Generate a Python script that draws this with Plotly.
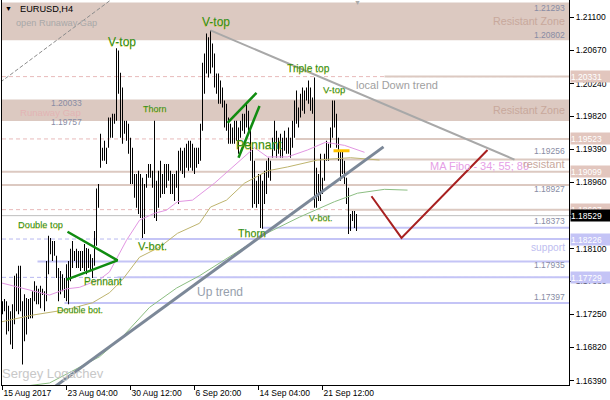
import plotly.graph_objects as go

# ---------------- data (EURUSD H4) ----------------
highs = [1.1742, 1.1745, 1.1742, 1.1736, 1.1729, 1.1738, 1.1775, 1.1778, 1.1788, 1.1788,
         1.1742, 1.1751, 1.1746, 1.1745, 1.1746, 1.1755, 1.1768, 1.1762, 1.1758, 1.1762,
         1.1758, 1.1755, 1.1794, 1.1827, 1.1824, 1.1820, 1.1820, 1.1801, 1.1785, 1.1781,
         1.1777, 1.1772, 1.1790, 1.1794, 1.1810, 1.1820, 1.1807, 1.1810, 1.1807, 1.1807,
         1.1807, 1.1816, 1.1811, 1.1810, 1.1803, 1.1798, 1.1833, 1.1888, 1.1894, 1.1959,
         1.1941, 1.1950, 1.1941, 1.1980, 1.1980, 1.1985, 1.1985, 1.2070, 1.2067, 1.2038,
         1.2019, 1.1976, 1.1976, 1.1972, 1.1954, 1.1941, 1.1907, 1.1907, 1.1911, 1.1907,
         1.1902, 1.1894, 1.1907, 1.1920, 1.1920, 1.1911, 1.1976, 1.1898, 1.1911, 1.1924,
         1.1907, 1.1920, 1.1920, 1.1920, 1.1911, 1.1907, 1.1907, 1.1911, 1.1937, 1.1941,
         1.1937, 1.1941, 1.1946, 1.1950, 1.1950, 1.1946, 1.1941, 1.1941, 1.1941, 1.1972,
         1.2051, 1.2063, 1.2089, 1.2084, 1.2093, 1.2076, 1.2063, 1.2037, 1.2037, 1.2028,
         1.2019, 1.2002, 1.1998, 1.1980, 1.1972, 1.1967, 1.1976, 1.1976, 1.1967, 1.1976,
         1.1985, 1.1985, 1.1998, 1.1989, 1.1967, 1.1941, 1.1924, 1.1898, 1.1907, 1.1907,
         1.1898, 1.1911, 1.1924, 1.1928, 1.1924, 1.1954, 1.1976, 1.1963, 1.1954, 1.1959,
         1.1954, 1.1963, 1.1954, 1.1967, 1.1954, 1.1976, 1.2002, 1.2015, 1.1993, 1.2011,
         1.2019, 1.2015, 1.2019, 1.2028, 1.2019, 1.2006, 1.2032, 1.1915, 1.1907, 1.1933,
         1.1902, 1.1933, 1.1950, 1.1946, 1.1967, 1.2002, 1.2002, 1.1985, 1.1954, 1.1937,
         1.1937, 1.1924, 1.1902, 1.1889, 1.1855, 1.1859, 1.1859, 1.1855]
lows = [1.1725, 1.1729, 1.1699, 1.1703, 1.1686, 1.1680, 1.1712, 1.1729, 1.1725, 1.1729,
        1.1660, 1.1690, 1.1699, 1.1719, 1.1720, 1.1720, 1.1742, 1.1738, 1.1738, 1.1733,
        1.1750, 1.1729, 1.1742, 1.1777, 1.1803, 1.1794, 1.1801, 1.1772, 1.1742, 1.1751,
        1.1755, 1.1746, 1.1742, 1.1738, 1.1768, 1.1785, 1.1794, 1.1785, 1.1785, 1.1781,
        1.1785, 1.1781, 1.1777, 1.1785, 1.1781, 1.1772, 1.1788, 1.1814, 1.1863, 1.1915,
        1.1924, 1.1924, 1.1920, 1.1941, 1.1954, 1.1954, 1.1972, 1.1976, 1.2011, 1.1954,
        1.1946, 1.1959, 1.1950, 1.1933, 1.1894, 1.1894, 1.1876, 1.1863, 1.1855, 1.1850,
        1.1824, 1.1829, 1.1889, 1.1902, 1.1902, 1.1889, 1.1850, 1.1846, 1.1863, 1.1876,
        1.1881, 1.1881, 1.1889, 1.1898, 1.1881, 1.1881, 1.1872, 1.1889, 1.1868, 1.1911,
        1.1907, 1.1902, 1.1915, 1.1911, 1.1915, 1.1911, 1.1907, 1.1915, 1.1920, 1.1924,
        1.1963, 1.2011, 1.2037, 1.2032, 1.2037, 1.2045, 1.2019, 1.2011, 1.1998, 1.1998,
        1.1993, 1.1967, 1.1963, 1.1946, 1.1946, 1.1946, 1.1946, 1.1950, 1.1933, 1.1954,
        1.1963, 1.1959, 1.1967, 1.1963, 1.1924, 1.1863, 1.1868, 1.1863, 1.1868, 1.1837,
        1.1836, 1.1868, 1.1881, 1.1902, 1.1898, 1.1928, 1.1937, 1.1928, 1.1933, 1.1928,
        1.1928, 1.1937, 1.1933, 1.1933, 1.1928, 1.1941, 1.1954, 1.1972, 1.1967, 1.1980,
        1.1989, 1.1985, 1.2002, 1.1998, 1.1989, 1.1985, 1.1863, 1.1863, 1.1872, 1.1872,
        1.1881, 1.1898, 1.1924, 1.1924, 1.1941, 1.1954, 1.1967, 1.1941, 1.1924, 1.1898,
        1.1907, 1.1894, 1.1868, 1.1829, 1.1833, 1.1846, 1.1837, 1.1833]
bar_idx = list(range(len(highs)))

date_tick_idx = [0, 32, 64, 96, 128, 160]
date_tick_labels = ["15 Aug 2017", "23 Aug 04:00", "30 Aug 12:00",
                    "6 Sep 20:00", "14 Sep 04:00", "21 Sep 12:00"]
price_tick_vals = [1.21100, 1.20670, 1.20240, 1.19820, 1.19390, 1.18960,
                   1.18530, 1.18100, 1.17680, 1.17250, 1.16820, 1.16390]

zone_low = [1.20802, 1.19757]
zone_high = [1.21293, 1.20033]
resist_levels = [1.20331, 1.19523, 1.19256, 1.19099, 1.18927, 1.18607]
resist_from = [191, 146.5, 126, -1, -1, 172]
support_levels = [1.18373, 1.18226, 1.17935, 1.17729, 1.17397]
support_from = [130, 69, 17.5, 57.5, 31]
dashed_resist = [1.20331, 1.19523, 1.18607]
dashed_support = [1.18226, 1.17729]
current_price = 1.18529

ma34_idx = [-1, 13.5, 23.5, 32, 38.5, 48.5, 53.5, 62, 68.5, 76, 82, 87.5, 95, 106,
            117.5, 126, 132.5, 142.5, 152.5, 161.5, 171, 177.5, 181]
ma34_val = [1.1766, 1.1757, 1.1750, 1.1758, 1.1760, 1.1770, 1.1780, 1.1821, 1.1847,
            1.1856, 1.1860, 1.1871, 1.1873, 1.1895, 1.1921, 1.1941, 1.1929, 1.1929,
            1.1938, 1.1948, 1.1944, 1.1938, 1.1935]
ma55_idx = [-1, 15, 32, 45, 53.5, 60, 68.5, 78.5, 87.5, 98.5, 104, 112, 121, 132.5,
            142.5, 157.5, 174, 188.5]
ma55_val = [1.1715, 1.1724, 1.1731, 1.1740, 1.1753, 1.1770, 1.1799, 1.1812, 1.1830,
            1.1843, 1.1864, 1.1873, 1.1895, 1.1911, 1.1916, 1.1925, 1.1928, 1.1925]
ma89_idx = [8.5, 23.5, 48.5, 60, 73.5, 87, 98.5, 115, 132, 148.5, 166, 177.5, 191, 202.5]
ma89_val = [1.1631, 1.1636, 1.1670, 1.1696, 1.1734, 1.1759, 1.1775, 1.1802, 1.1830,
            1.1851, 1.1871, 1.1882, 1.1887, 1.1886]

down_trend_idx = [104, 256]
down_trend_val = [1.2093, 1.19256]
up_trend_idx = [25, 190.5]
up_trend_val = [1.1629, 1.1942]
gap_line_idx = [-1, 56]
gap_line_val = [1.2026, 1.2136]
pennant1_idx = [32.5, 57.5, 32]
pennant1_val = [1.1832, 1.1795, 1.1770]
pennant2a_idx = [112.5, 127]
pennant2a_val = [1.1973, 1.2012]
pennant2b_idx = [118, 128.5]
pennant2b_val = [1.1928, 1.1995]
forecast_idx = [184.5, 199.5, 242.5]
forecast_val = [1.1878, 1.1824, 1.1938]
fibo_mark_idx = [165.5, 173.5]
fibo_mark_val = [1.1937, 1.1937]

# ---------------- styling ----------------
FONT = "Liberation Sans, Arial, sans-serif"
BROWN = "rgb(220,201,193)"
BROWN_BOX = "rgb(226,198,190)"
BLUE = "rgb(196,196,246)"
PINK_DASH = "rgb(232,186,186)"
LAV_DASH = "rgb(184,184,240)"
PAT = "#2f8f1a"

fig = go.Figure()

shapes = []
for lo, hi in zip(zone_low, zone_high):
    shapes.append(dict(type="rect", xref="paper", x0=0, x1=1, yref="y", y0=lo, y1=hi,
                       fillcolor=BROWN, line=dict(width=0), layer="below"))
for lv in dashed_resist:
    shapes.append(dict(type="line", xref="paper", x0=0, x1=1, yref="y", y0=lv, y1=lv,
                       line=dict(color=PINK_DASH, width=1, dash="4px,3px"), layer="below"))
for lv in dashed_support:
    shapes.append(dict(type="line", xref="paper", x0=0, x1=1, yref="y", y0=lv, y1=lv,
                       line=dict(color=LAV_DASH, width=1, dash="4px,3px"), layer="below"))
for lv, st in zip(resist_levels, resist_from):
    shapes.append(dict(type="line", xref="x", x0=st, x1=290, yref="y", y0=lv, y1=lv,
                       line=dict(color=BROWN, width=2), layer="below"))
for lv, st in zip(support_levels, support_from):
    shapes.append(dict(type="line", xref="x", x0=st, x1=290, yref="y", y0=lv, y1=lv,
                       line=dict(color=BLUE, width=2), layer="below"))
shapes.append(dict(type="line", xref="paper", x0=0, x1=1, yref="y", y0=current_price,
                   y1=current_price, line=dict(color="rgb(190,190,190)", width=1), layer="below"))

# moving averages
for xi, yv, col in [(ma89_idx, ma89_val, "rgb(140,190,130)"),
                    (ma55_idx, ma55_val, "rgb(190,180,110)"),
                    (ma34_idx, ma34_val, "rgb(226,150,226)")]:
    fig.add_trace(go.Scatter(x=xi, y=yv, mode="lines", line=dict(color=col, width=1),
                             hoverinfo="skip"))

# price bars
fig.add_trace(go.Bar(x=bar_idx, y=[h - l for h, l in zip(highs, lows)], base=lows,
                     width=0.5, marker=dict(color="black", line=dict(width=0)),
                     hoverinfo="skip"))

# trend lines & drawings
fig.add_trace(go.Scatter(x=gap_line_idx, y=gap_line_val, mode="lines",
                         line=dict(color="rgb(140,140,140)", width=1, dash="4px,2px"),
                         hoverinfo="skip"))
fig.add_trace(go.Scatter(x=down_trend_idx, y=down_trend_val, mode="lines",
                         line=dict(color="rgb(168,168,168)", width=2), hoverinfo="skip"))
fig.add_trace(go.Scatter(x=up_trend_idx, y=up_trend_val, mode="lines",
                         line=dict(color="rgb(124,136,152)", width=3), hoverinfo="skip"))
for xi, yv in [(pennant1_idx, pennant1_val), (pennant2a_idx, pennant2a_val),
               (pennant2b_idx, pennant2b_val)]:
    fig.add_trace(go.Scatter(x=xi, y=yv, mode="lines",
                             line=dict(color="rgb(16,140,16)", width=2.5), hoverinfo="skip"))
fig.add_trace(go.Scatter(x=forecast_idx, y=forecast_val, mode="lines",
                         line=dict(color="rgb(168,32,32)", width=2), hoverinfo="skip"))
fig.add_trace(go.Scatter(x=fibo_mark_idx, y=fibo_mark_val, mode="lines",
                         line=dict(color="rgb(255,196,0)", width=3), hoverinfo="skip"))

ann = []


def txt(text, x, y, size, color, xanchor="center", xref="x", xshift=0, yshift=0, shadow=None):
    f = dict(family=FONT, size=size, color=color)
    if shadow:
        f["shadow"] = shadow
    ann.append(dict(text=text, x=x, y=y, xref=xref, yref="y", xanchor=xanchor,
                    yanchor="middle", showarrow=False, font=f, xshift=xshift, yshift=yshift))


pat_shadow = "0px 1px 0px rgba(215,190,0,0.55)"
for t, xi, yv, sz in [("V-top", 59.8, 1.2078, 12), ("V-top", 106.8, 1.2104, 12),
                      ("Thorn", 76.3, 1.1991, 9), ("Triple top", 152.8, 1.2043, 10.3),
                      ("V-top", 165.8, 1.2017, 9.6), ("Pennant", 128.3, 1.1944, 12.3),
                      ("Pennant", 50.3, 1.1768, 10.2), ("Double top", 18.8, 1.1841, 9.3),
                      ("Double bot.", 38.8, 1.1731, 9), ("V-bot.", 74.8, 1.1814, 11.2),
                      ("Thorn", 124.8, 1.1830, 10.7), ("V-bot.", 159.3, 1.1850, 9)]:
    txt(t, xi, yv, sz, PAT, shadow=pat_shadow)

txt("local Down trend", 197.3, 1.2022, 11, "rgb(160,160,160)")
txt("MA Fibo - 34; 55; 89", 238.3, 1.1917, 11, "rgb(230,160,230)")
txt("Up trend", 108.8, 1.1754, 12, "rgb(150,160,172)")
txt("Sergey Logachev", 25.3, 1.1648, 13, "rgb(200,200,200)")
txt("open Runaway Gap", 26.8, 1.2103, 9.2, "rgb(168,168,168)")
txt("Runaway Gap", 40.3, 1.1987, 9.6, "rgb(226,180,180)", xanchor="right")
txt("1.20033", 40.8, zone_high[1], 8.5, "rgb(136,140,164)", xanchor="right", yshift=-3)
txt("1.19757", 40.8, zone_low[1], 8.5, "rgb(136,140,164)", xanchor="right", yshift=-1)
txt("EURUSD,H4", 7.8, 1.2121, 9.2, "black", xanchor="left")
txt("▼", 3.0, 1.2121, 7, "black", xanchor="center")
txt("▼", 177.5, 1.2129, 7, "rgb(170,170,170)")

# right-edge texts inside plot
for lo, hi in zip(zone_low, zone_high):
    txt("Resistant Zone", 1, (lo + hi) / 2, 10.7, "rgb(200,168,156)", xanchor="right",
        xref="paper", xshift=-2)
txt("resistant", 1, 1.1920, 11, "rgb(200,168,156)", xanchor="right", xref="paper", xshift=-2)
txt("support", 1, 1.1812, 10.2, "rgb(190,190,240)", xanchor="right", xref="paper", xshift=-2)
for lv, ys in [(1.21293, -6), (1.20802, 5), (1.19256, 9), (1.18927, -4),
               (1.18373, 7), (1.17935, -4), (1.17397, 6)]:
    txt(f"{lv:.5f}", 1, lv, 8.5, "rgb(136,140,164)", xanchor="right", xref="paper",
        xshift=-2, yshift=ys)

# price boxes on the axis
for lv, bg in ([(v, BROWN_BOX) for v in dashed_resist + [1.19099]] +
               [(v, BLUE) for v in dashed_support] + [(current_price, "black")]):
    ann.append(dict(text=f"{lv:.5f}", x=1, y=lv, xref="paper", yref="y", xanchor="left",
                    yanchor="middle", showarrow=False, xshift=1, width=40, height=11,
                    align="left", bgcolor=bg, borderpad=0,
                    font=dict(family=FONT, size=8.5, color="white")))

fig.update_layout(
    width=610, height=400, margin=dict(l=2, r=41, t=0, b=15, autoexpand=False),
    plot_bgcolor="white", paper_bgcolor="white", showlegend=False,
    shapes=shapes, annotations=ann,
    xaxis=dict(range=[-0.25, 283.25], showgrid=False, zeroline=False, showline=True,
               linecolor="black", linewidth=1, ticks="outside", ticklen=4,
               tickcolor="black", tickvals=date_tick_idx, ticktext=date_tick_labels,
               tickfont=dict(family=FONT, size=8.5, color="black"),
               ticklabelposition="outside right", fixedrange=True, automargin=False),
    yaxis=dict(range=[1.16334, 1.21324], side="right", showgrid=False, zeroline=False,
               showline=True, mirror=True, linecolor="black", linewidth=1,
               ticks="outside", ticklen=4, tickcolor="black",
               tickvals=price_tick_vals, ticktext=[f"{v:.5f}" for v in price_tick_vals],
               tickfont=dict(family=FONT, size=8.5, color="black"), fixedrange=True,
               automargin=False),
)

fig.write_html("out.html", config={"displayModeBar": False},
               post_script="document.body.style.margin='0';"
                           "document.body.style.overflow='hidden';")
